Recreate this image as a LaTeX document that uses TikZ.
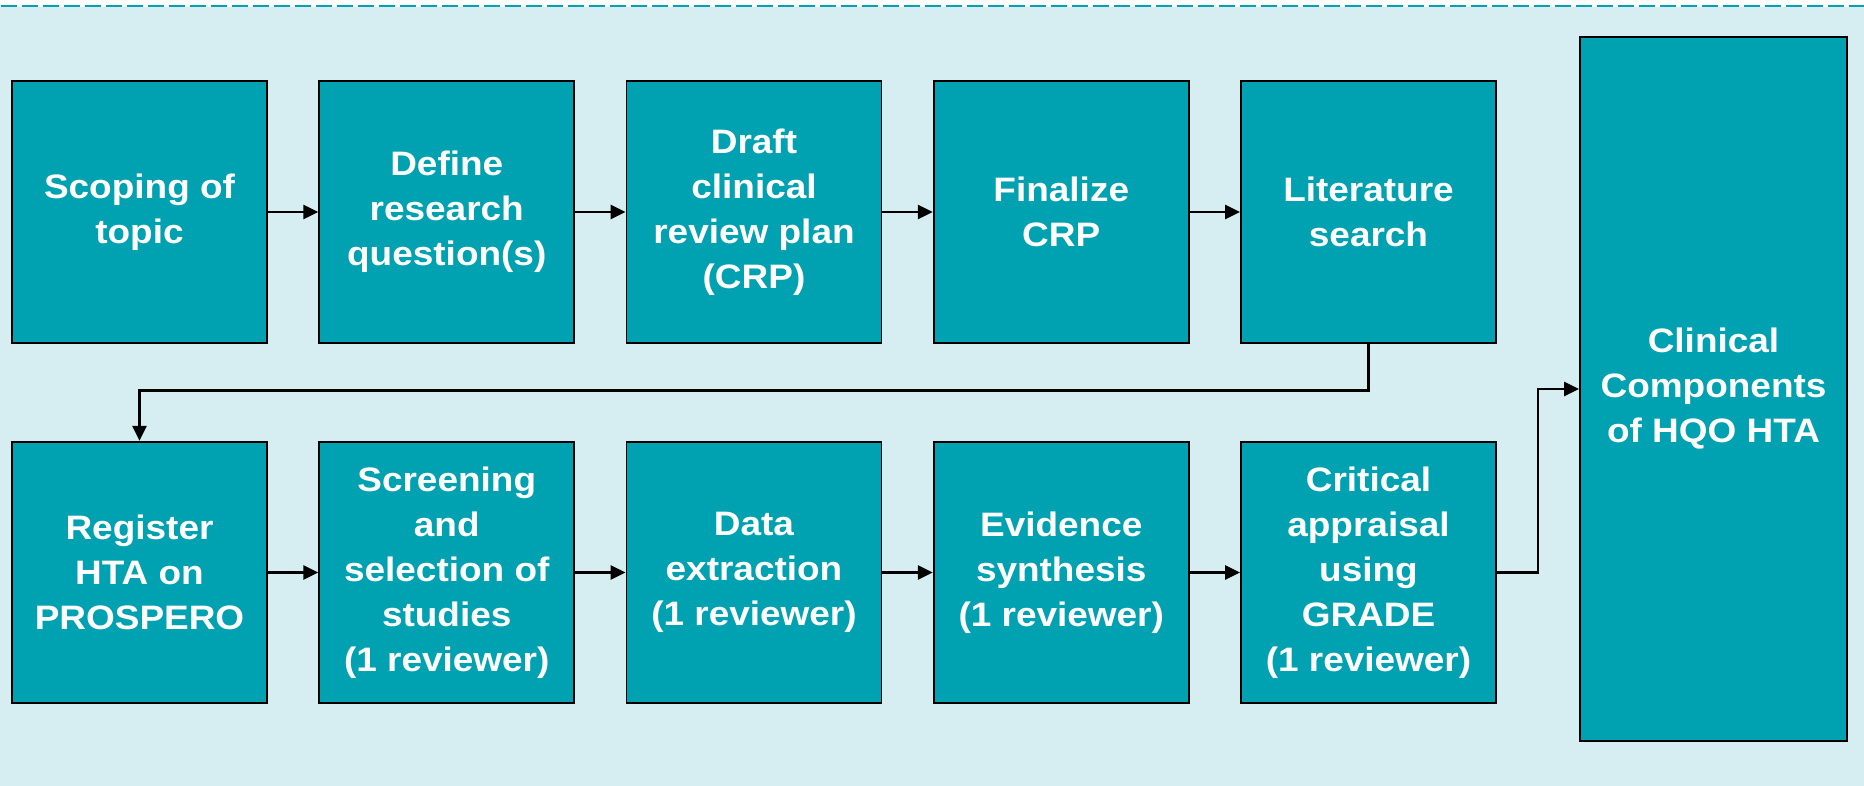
\documentclass[tikz,border=0pt]{standalone}
\usepackage{fontspec}
\setmainfont[FakeStretch=1.09]{Liberation Sans}
\usepackage{tikz}
\usetikzlibrary{calc}
\usetikzlibrary{arrows.meta}
\usetikzlibrary{positioning}
\definecolor{hqoteal}{RGB}{0, 161, 176}
\definecolor{hqopale}{RGB}{214, 238, 242}

\tikzset{
  stepbox/.style={draw=black, line width=1.1pt, fill=hqoteal, text=white,
                  minimum width=5.1cm, minimum height=5.23cm, inner sep=0pt,
                  align=center, font=\fontsize{19.3}{25.6}\selectfont\bfseries},
  flow/.style={draw=black, line width=1.6pt, -{Triangle[length=0.3cm, width=0.28cm]}}
}

\begin{document}
\begin{tikzpicture}[x=0.02cm, y=-0.02cm]
            % Frame to fix the page size:
            \useasboundingbox                                          (0, 0) rectangle (1864, 786);
            \fill[hqopale]                                             (0, 7) rectangle (1864, 786);
            \draw[hqoteal, line width=1.2pt, dash pattern=on 0.32cm off 0.1cm] (1, 6) -- (1864, 6);

            % First row
            \node[stepbox] (scope)   at ( 139.50, 212.0) {Scoping of\\topic};
            \node[stepbox] (define)  at ( 446.75, 212.0) {Define\\research\\question(s)};
            \node[stepbox] (draft)   at ( 754.00, 212.0) {Draft\\clinical\\review plan\\(CRP)};
            \node[stepbox] (final)   at (1061.25, 212.0) {Finalize\\CRP};
            \node[stepbox] (search)  at (1368.50, 212.0) {Literature\\search};

            % Second row
            \node[stepbox] (register) at ( 139.50, 572.5) {Register\\HTA on\\PROSPERO};
            \node[stepbox] (screen)   at ( 446.75, 572.5) {Screening\\and\\selection of\\studies\\(1 reviewer)};
            \node[stepbox] (extract)  at ( 754.00, 572.5) {Data\\extraction\\(1 reviewer)};
            \node[stepbox] (synth)    at (1061.25, 572.5) {Evidence\\synthesis\\(1 reviewer)};
            \node[stepbox] (grade)    at (1368.50, 572.5) {Critical\\appraisal\\using\\GRADE\\(1 reviewer)};

            % Outcome
            \node[stepbox, minimum width=5.34cm, minimum height=14.08cm] (hta) at (1713.5, 389.0) {Clinical\\Components\\of HQO HTA};

            % Connectors
            \draw[flow] (scope)  -- (define);
            \draw[flow] (define) -- (draft);
            \draw[flow] (draft)  -- (final);
            \draw[flow] (final)  -- (search);
            \draw[flow] (search.south) -- ++(0, 47) -| (register.north);
            \draw[flow] (register) -- (screen);
            \draw[flow] (screen)   -- (extract);
            \draw[flow] (extract)  -- (synth);
            \draw[flow] (synth)    -- (grade);
            \draw[flow] (grade.east) -- ++(41, 0) |- (hta.west);
        \end{tikzpicture}
\end{document}
